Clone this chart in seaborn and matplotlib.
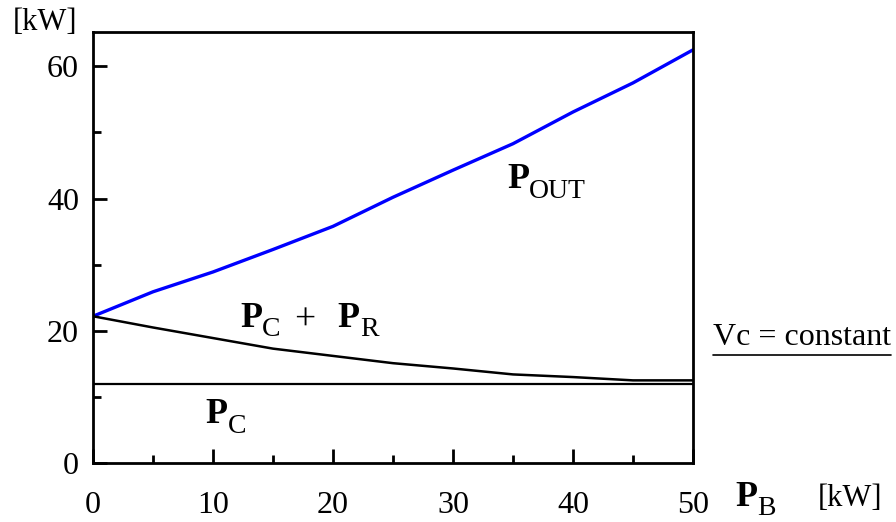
import numpy as np
import pandas as pd
import matplotlib
matplotlib.use('Agg')
import matplotlib.pyplot as plt
import seaborn as sns

# Data
pb = [0, 5, 10, 15, 20, 25, 30, 35, 40, 45, 50]
p_out = [22.2, 25.9, 28.9, 32.3, 35.8, 40.2, 44.3, 48.3, 53.1, 57.5, 62.5]
p_cr = [22.2, 20.5, 18.9, 17.3, 16.2, 15.1, 14.3, 13.4, 13.0, 12.5, 12.5]
p_c = [12.0] * len(pb)

df = pd.DataFrame({'PB': pb, 'POUT': p_out, 'PCR': p_cr, 'PC': p_c})

sns.set_style('ticks')
plt.rcParams['font.family'] = ['Liberation Serif', 'DejaVu Serif']
plt.rcParams['text.color'] = 'black'

fig = plt.figure(figsize=(8.96, 5.22), dpi=100)
ax = fig.add_axes([93 / 896, (522 - 463) / 522, 600 / 896, 431 / 522])

sns.lineplot(data=df, x='PB', y='POUT', color='#0000ff', linewidth=2.4, ax=ax)
sns.lineplot(data=df, x='PB', y='PCR', color='black', linewidth=1.8, ax=ax)
sns.lineplot(data=df, x='PB', y='PC', color='black', linewidth=1.6, ax=ax)

ax.set_xlim(0, 50)
ax.set_ylim(0, 65.2)
ax.set_xticks([0, 10, 20, 30, 40, 50])
ax.set_xticks([5, 15, 25, 35, 45], minor=True)
ax.set_yticks([0, 20, 40, 60])
ax.set_yticks([10, 30, 50], minor=True)
ax.set_xlabel('')
ax.set_ylabel('')
for s in ax.spines.values():
    s.set_linewidth(2)
    s.set_color('black')
ax.tick_params(which='major', direction='in', length=10, width=2, labelsize=23,
               colors='black', labelcolor='black')
ax.tick_params(which='minor', direction='in', length=6, width=2, colors='black')
ax.tick_params(axis='x', which='major', pad=20)
ax.tick_params(axis='y', which='major', pad=10)


def psub(x, y, sub):
    p = ax.text(x, y, 'P', fontsize=26, fontweight='bold', ha='left', va='baseline')
    ax.annotate(sub, xy=(1, 0), xycoords=p, xytext=(0, -5.5), textcoords='offset points',
                fontsize=20, ha='left', va='bottom', annotation_clip=False)
    return p


psub(34.5, 41.6, 'OUT')
psub(12.25, 20.6, 'C')
ax.text(17.65, 20.2, '+', fontsize=27, ha='center', va='baseline')
psub(20.4, 20.6, 'R')
psub(9.4, 6.0, 'C')

# axis labels
fig.text(735 / 896, 1 - 506 / 522, 'P', fontsize=26, fontweight='bold', ha='left', va='baseline')
fig.text(757 / 896, 1 - 515 / 522, 'B', fontsize=20, ha='left', va='baseline')
fig.text(850 / 896, 1 - 506 / 522, '[kW]', fontsize=22, ha='center', va='baseline')
fig.text(45 / 896, 1 - 30 / 522, '[kW]', fontsize=22, ha='center', va='baseline')

fig.text(713 / 896, 1 - 345 / 522, 'Vc = constant', fontsize=23, ha='left', va='baseline')
fig.add_artist(plt.Line2D([713 / 896, 891 / 896], [1 - 355 / 522, 1 - 355 / 522],
                          color='black', linewidth=1.2, transform=fig.transFigure))

fig.savefig('out.png', dpi=100)
